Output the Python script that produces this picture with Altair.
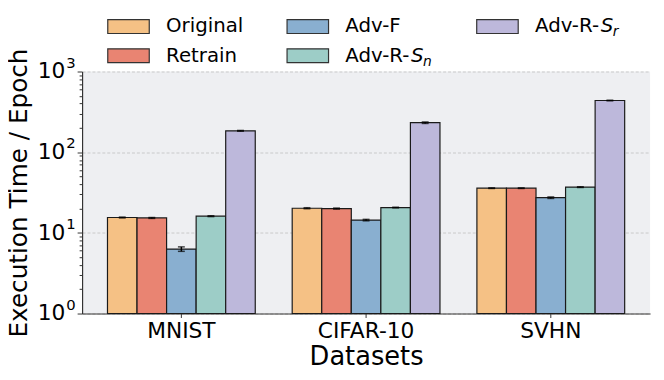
import altair as alt
import pandas as pd

datasets = ["MNIST", "CIFAR-10", "SVHN"]
methods = ["Original", "Retrain", "Adv-F", "Adv-R-Sn", "Adv-R-Sr"]

original = [15.5, 20.2, 35.8]
retrain = [15.3, 20.0, 35.8]
adv_f = [6.3, 14.4, 27.3]
adv_r_sn = [16.1, 20.6, 36.9]
adv_r_sr = [184, 232, 437]

original_err = [0.2, 0.3, 0.3]
retrain_err = [0.2, 0.3, 0.3]
adv_f_err = [0.4, 0.3, 0.6]
adv_r_sn_err = [0.2, 0.2, 0.4]
adv_r_sr_err = [2.0, 5.0, 4.0]

colors = ["#F5C185", "#E98472", "#89AFD0", "#9DCDC7", "#BDB8DB"]

# y tick labels: base and exponent
ytick_values = [1, 10, 100, 1000]
ytick_base = ["10", "10", "10", "10"]
ytick_exp = ["0", "1", "2", "3"]

# legend entries (column-major like the reference)
legend_main = ["Original", "Retrain", "Adv-F", "Adv-R-", "Adv-R-"]
legend_sub = ["", "", "", "n", "r"]
legend_col = [0, 0, 1, 1, 2]
legend_row = [0, 1, 0, 1, 0]

series = [original, retrain, adv_f, adv_r_sn, adv_r_sr]
errs = [original_err, retrain_err, adv_f_err, adv_r_sn_err, adv_r_sr_err]
rows = []
for m, vals, es in zip(methods, series, errs):
    for d, v, e in zip(datasets, vals, es):
        rows.append({"dataset": d, "method": m, "value": v, "lo": v - e, "hi": v + e})
df = pd.DataFrame(rows)

leg = pd.DataFrame({
    "method": methods, "main": legend_main, "sub": legend_sub,
    "col": legend_col, "row": legend_row,
})
yt = pd.DataFrame({"v": ytick_values, "base": ytick_base, "exp": ytick_exp})

FONT = "DejaVu Sans"
W, H = 575, 245

xenc = alt.X("dataset:N", sort=datasets,
             scale=alt.Scale(paddingInner=0.2, paddingOuter=0.1375))
xoff = alt.XOffset("method:N", sort=methods)
yscale = alt.Scale(type="log", domain=[1, 1000], nice=False)
color = alt.Color("method:N", scale=alt.Scale(domain=methods, range=colors), legend=None)

bars = alt.Chart(df).mark_bar(stroke="#1a1a1a", strokeWidth=1.2, opacity=1).encode(
    x=alt.X("dataset:N", sort=datasets,
            scale=alt.Scale(paddingInner=0.2, paddingOuter=0.1375),
            axis=alt.Axis(title="Datasets", labelAngle=0, labelFontSize=22,
                          labelFont=FONT, labelColor="black", labelPadding=3,
                          tickSize=4, tickColor="#333", domainColor="#333",
                          domainWidth=1.2, titleFont=FONT, titleFontSize=26,
                          titleFontWeight="normal", titleColor="black",
                          titleBaseline="alphabetic", titleY=52)),
    xOffset=xoff,
    y=alt.Y("value:Q", scale=yscale,
            axis=alt.Axis(title="Execution Time / Epoch", values=ytick_values,
                          labels=False, tickSize=5, tickColor="#333",
                          domainColor="#333", domainWidth=1.2,
                          grid=True, gridDash=[3, 2], gridColor="#c4c4c4",
                          gridWidth=0.9, titleFont=FONT, titleFontSize=25,
                          titleFontWeight="normal", titleColor="black",
                          titleAngle=270, titleBaseline="alphabetic",
                          titleX=-56, titleY=H / 2, titleAlign="center")),
    y2=alt.Y2(datum=1),
    color=color,
)

minor_vals = [m * 10 ** k for k in range(3) for m in range(2, 10)]
err_rule = alt.Chart(df).mark_rule(color="black", strokeWidth=1.5).encode(
    x=xenc, xOffset=xoff,
    y=alt.Y("lo:Q", scale=yscale,
            axis=alt.Axis(orient="left", values=minor_vals, labels=False,
                          domain=False, grid=False, title=None, tickSize=3,
                          tickColor="#333")),
    y2="hi:Q",
)
cap_lo = alt.Chart(df).mark_tick(color="black", thickness=1.5, size=7).encode(
    x=xenc, xOffset=xoff, y=alt.Y("lo:Q", scale=yscale, axis=None))
cap_hi = alt.Chart(df).mark_tick(color="black", thickness=1.5, size=7).encode(
    x=xenc, xOffset=xoff, y=alt.Y("hi:Q", scale=yscale, axis=None))

# y tick labels as 10 with superscript exponent
ybase = alt.Chart(yt).mark_text(align="right", baseline="middle", font=FONT,
                                fontSize=22, color="black").encode(
    x=alt.value(-17), y=alt.Y("v:Q", scale=yscale, axis=None), text="base:N")
yexp = alt.Chart(yt).mark_text(align="left", baseline="middle", font=FONT,
                               fontSize=15, color="black", dy=-9).encode(
    x=alt.value(-16), y=alt.Y("v:Q", scale=yscale, axis=None), text="exp:N")

legbase = alt.Chart(leg).transform_calculate(
    cx="[47, 228.5, 420.5][datum.col]",
    cy="[-45.5, -16][datum.row]",
    x1="datum.cx - 21", x2="datum.cx + 21",
    y1="datum.cy - 7", y2="datum.cy + 7",
    tx="datum.cx + 38",
    sx="datum.cx + 38 + 66.6",
    ux="datum.cx + 38 + 66.6 + 12",
)
swatch = legbase.mark_rect(stroke="#333", strokeWidth=1.2).encode(
    x=alt.X("x1:Q", scale=None), x2="x2:Q",
    y=alt.Y("y1:Q", scale=None), y2="y2:Q",
    color=color,
)
ltext = legbase.mark_text(align="left", baseline="middle", font=FONT,
                          fontSize=20, color="black").encode(
    x=alt.X("tx:Q", scale=None), y=alt.Y("cy:Q", scale=None), text="main:N")
stext = legbase.transform_filter("datum.sub != ''").mark_text(
    align="left", baseline="middle", font=FONT, fontSize=20, fontStyle="italic",
    color="black").encode(
    x=alt.X("sx:Q", scale=None), y=alt.Y("cy:Q", scale=None), text=alt.value("S"))
utext = legbase.transform_filter("datum.sub != ''").mark_text(
    align="left", baseline="middle", font=FONT, fontSize=14, fontStyle="italic",
    dy=6, color="black").encode(
    x=alt.X("ux:Q", scale=None), y=alt.Y("cy:Q", scale=None), text="sub:N")

chart = alt.layer(bars, err_rule, cap_lo, cap_hi, ybase, yexp,
                  swatch, ltext, stext, utext).resolve_axis(
    y="independent"
).properties(
    width=W, height=H,
    autosize=alt.AutoSizeParams(type="none"),
    padding={"left": 75, "top": 62, "right": 6, "bottom": 65},
).configure_view(stroke=None, fill="#EEEFF2")

chart.save("out.html", embed_options={"renderer": "svg", "actions": False})
